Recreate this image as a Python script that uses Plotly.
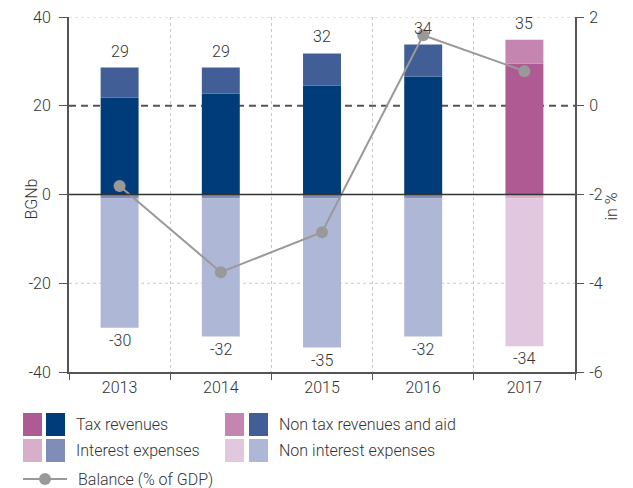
import plotly.graph_objects as go

years = ["2013", "2014", "2015", "2016", "2017"]
tax_revenues = [21.8, 22.7, 24.5, 26.6, 29.5]
non_tax_revenues = [6.8, 5.9, 7.3, 7.2, 5.4]
interest_expenses = [-0.9, -0.9, -0.9, -0.9, -0.9]
non_interest_expenses = [-29.1, -31.1, -33.6, -31.1, -33.3]
total_revenues_labels = ["29", "29", "32", "34", "35"]
total_expenses_labels = ["-30", "-32", "-35", "-32", "-34"]
balance_pct_gdp = [-1.81, -3.75, -2.85, 1.59, 0.78]
left_ticks = [-40, -20, 0, 20, 40]
left_tick_labels = ["-40", "-20", "0", "20", "40"]
right_ticks = [-6, -4, -2, 0, 2]
right_tick_labels = ["-6", "-4", "-2", "0", "2"]
dotted_grid_levels = [-20, 40]
dashed_level = 20

# colours: 2013-2016 blue palette, 2017 pink palette
C_TAX = ["#003B7A"] * 4 + ["#B05A94"]
C_NONTAX = ["#415F96"] * 4 + ["#C485B0"]
C_INT = ["#7F8DB8"] * 4 + ["#D8AECB"]
C_NONINT = ["#AFB7D6"] * 4 + ["#E2C8DF"]
LINE_C = "#999999"
TXT = "#333333"
FONT = "Roboto"
FW = 300

def f(size=16):
    return dict(size=size, color=TXT, family=FONT, weight=FW)

fig = go.Figure()
fig.add_bar(x=years, y=tax_revenues, marker_color=C_TAX, marker_line_width=0, name="Tax revenues")
fig.add_bar(x=years, y=non_tax_revenues, marker_color=C_NONTAX, marker_line_width=0, name="Non tax revenues and aid")
fig.add_bar(x=years, y=interest_expenses, marker_color=C_INT, marker_line_width=0, name="Interest expenses")
fig.add_bar(x=years, y=non_interest_expenses, marker_color=C_NONINT, marker_line_width=0, name="Non interest expenses")
fig.add_scatter(x=years, y=balance_pct_gdp, yaxis="y2", mode="lines+markers",
                line=dict(color=LINE_C, width=2), marker=dict(color=LINE_C, size=12),
                name="Balance (% of GDP)")

# value labels (x given as category index)
for i in range(len(years)):
    top = tax_revenues[i] + non_tax_revenues[i]
    bot = interest_expenses[i] + non_interest_expenses[i]
    fig.add_annotation(x=i, y=top, xref="x", yref="y", text=total_revenues_labels[i],
                       showarrow=False, yanchor="bottom", yshift=5, font=f())
    fig.add_annotation(x=i, y=bot, xref="x", yref="y", text=total_expenses_labels[i],
                       showarrow=False, yanchor="top", yshift=-1, font=f())

# horizontal dotted grid lines, dashed reference line (20 BGNb = 0 %), solid zero line
for lv in dotted_grid_levels:
    fig.add_shape(type="line", xref="paper", x0=0, x1=1, yref="y", y0=lv, y1=lv,
                  line=dict(color="#C8C8C8", width=1, dash="dot"), layer="below")
fig.add_shape(type="line", xref="paper", x0=0, x1=1, yref="y", y0=dashed_level, y1=dashed_level,
              line=dict(color="#555555", width=2, dash="7px,5px"), layer="below")
fig.add_shape(type="line", xref="paper", x0=0, x1=1, yref="y", y0=0, y1=0,
              line=dict(color="#333333", width=1.5), layer="above")

# manual legend (two swatches per entry)
L, R, T, B = 69, 575, 17, 372
def px(x):
    return (x - L) / (R - L)
def py(y):
    return (B - y) / (B - T)

rows = [(413, 436), (439, 462)]
entries = [
    (0, "#B05A94", "#003B7A", "Tax revenues", 23, 46, 74),
    (1, "#D8AECB", "#7F8DB8", "Interest expenses", 23, 46, 74),
    (0, "#C485B0", "#415F96", "Non tax revenues and aid", 225, 249, 277),
    (1, "#E2C8DF", "#AFB7D6", "Non interest expenses", 225, 249, 277),
]
for row, c1, c2, label, x1, x2, xt in entries:
    y0, y1 = rows[row]
    for xs, c in ((x1, c1), (x2, c2)):
        fig.add_shape(type="rect", xref="paper", yref="paper",
                      x0=px(xs), x1=px(xs + 19), y0=py(y1), y1=py(y0),
                      fillcolor=c, line_width=0)
    fig.add_annotation(xref="paper", yref="paper", x=px(xt), y=py((y0 + y1) / 2),
                       text=label, showarrow=False, xanchor="left", yanchor="middle", font=f())
fig.add_shape(type="line", xref="paper", yref="paper", x0=px(23), x1=px(67),
              y0=py(479), y1=py(479), line=dict(color=LINE_C, width=2))
fig.add_shape(type="circle", xref="paper", yref="paper", x0=px(39), x1=px(51),
              y0=py(485), y1=py(473), fillcolor=LINE_C, line_width=0)
fig.add_annotation(xref="paper", yref="paper", x=px(76), y=py(479),
                   text="Balance (% of GDP)", showarrow=False, xanchor="left", yanchor="middle",
                   font=f())

# axis titles
fig.add_annotation(xref="paper", yref="paper", x=px(19), y=py(199), text="BGNb",
                   textangle=-90, showarrow=False, font=f())
fig.add_annotation(xref="paper", yref="paper", x=px(623), y=py(207), text="in %",
                   textangle=-90, showarrow=False, font=f())

fig.update_layout(
    width=633, height=488,
    margin=dict(l=L, r=633 - R, t=T, b=488 - B, autoexpand=False),
    barmode="relative", bargap=0.625,
    plot_bgcolor="white", paper_bgcolor="white",
    showlegend=False,
    font=f(),
    xaxis=dict(type="category", tickson="boundaries", ticks="outside", ticklen=6,
               tickcolor="#555555", showline=True, linecolor="#555555", linewidth=2,
               showgrid=True, gridcolor="#C8C8C8", griddash="dot", gridwidth=1,
               tickfont=f(), range=[-0.5, 4.5], automargin=False),
    yaxis=dict(range=[-40, 40], tickvals=left_ticks, ticktext=left_tick_labels,
               ticks="outside", ticklen=8, tickcolor="#555555", ticklabelstandoff=5,
               showline=True, linecolor="#555555", linewidth=2,
               showgrid=False, zeroline=False, tickfont=f(), automargin=False),
    yaxis2=dict(range=[-6, 2], tickvals=right_ticks, ticktext=right_tick_labels,
                overlaying="y", side="right", ticks="outside", ticklabelstandoff=2,
                ticklen=7, tickcolor="#555555", showline=True, linecolor="#555555",
                linewidth=2, showgrid=False, zeroline=False,
                tickfont=f(), automargin=False),
)

fig.write_html("out.html", config={"displayModeBar": False},
               post_script="document.body.style.margin='0';")
